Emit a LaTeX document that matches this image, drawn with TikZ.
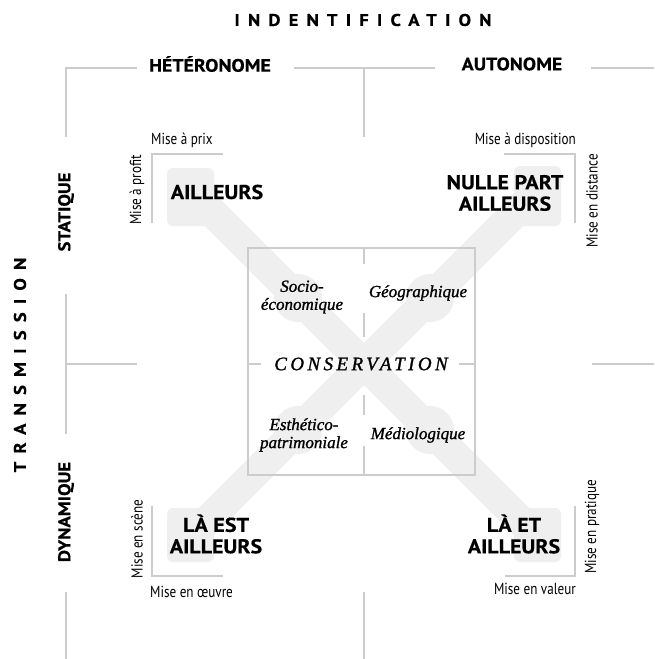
\documentclass[tikz,border=0pt]{standalone}
\usepackage{fontspec}
\setmainfont{Liberation Serif}[ItalicFeatures={FakeBold=1.2}]
\newfontfamily\hsans{PT Sans}[BoldFeatures={FakeStretch=1.1,FakeBold=0.4}]
\newfontfamily\csans[FakeStretch=0.82]{PT Sans}
\definecolor{linegray}{HTML}{CCCCCC}
\definecolor{xgray}{HTML}{EFEFEF}
\tikzset{
  frame/.style={draw=linegray, line width=2.2pt},
  band/.style={draw=xgray, line width=30pt},
  blob/.style={fill=xgray, rounded corners=6pt},
  bulge/.style={fill=xgray},
  head/.style={font=\hsans\bfseries\fontsize{18}{20}\selectfont, inner sep=0pt},
  place/.style={font=\hsans\bfseries\fontsize{20}{21.5}\selectfont, align=center, inner sep=0pt},
  mise/.style={font=\csans\fontsize{16}{18}\selectfont, inner sep=0pt},
  axislabel/.style={font=\hsans\bfseries\fontsize{17}{20}\selectfont\addfontfeature{LetterSpace=48}, inner sep=0pt},
  cat/.style={font=\itshape\fontsize{17}{18}\selectfont, align=center, inner sep=0pt},
  side/.style={font=\hsans\bfseries\fontsize{17}{18}\selectfont, inner sep=0pt, rotate=90},
}
\begin{document}
\begin{tikzpicture}[x=1pt,y=-1pt]
\path[use as bounding box, fill=white] (0,0) rectangle (654,659);

% grey X
\draw[band] (190,190) -- (538,538);
\draw[band] (538,190) -- (190,538);
\fill[blob] (167,168) rectangle (214,226);
\fill[blob] (514,166) rectangle (561,226);
\fill[blob] (167,508) rectangle (214,562);
\fill[blob] (514,508) rectangle (561,562);
\fill[bulge] (298,298) circle (24);
\fill[bulge] (430,298) circle (24);
\fill[bulge] (298,430) circle (24);
\fill[bulge] (430,430) circle (24);

% frame lines
\draw[frame] (137,68) -- (66,68) -- (66,137);
\draw[frame] (294,68) -- (435,68);
\draw[frame] (364,68) -- (364,137);
\draw[frame] (591,68) -- (654,68);
\draw[frame] (66,294) -- (66,434);
\draw[frame] (66,364) -- (137,364);
\draw[frame] (66,592) -- (66,659);
\draw[frame] (364,592) -- (364,659);
\draw[frame] (592,364) -- (654,364);

% central box
\draw[frame] (248,248) rectangle (475,475);
\draw[frame] (364,248) -- (364,264);
\draw[frame] (364,313) -- (364,337);
\draw[frame] (364,395) -- (364,415);
\draw[frame] (364,446) -- (364,475);
\draw[frame] (248,364) -- (261,364);
\draw[frame] (459,364) -- (475,364);

% corner brackets
\draw[frame] (223,154) -- (152,154) -- (152,223);
\draw[frame] (504,154) -- (575,154) -- (575,223);
\draw[frame] (152,506) -- (152,576) -- (223,576);
\draw[frame] (575,506) -- (575,576) -- (505,576);

% titles
\node[axislabel] (ident) at (363,20) {INDENTIFICATION};
\node[axislabel, rotate=90] (trans) at (20,365) {TRANSMISSION};
\node[head] (hetero) at (210,64) {HÉTÉRONOME};
\node[head] (auto) at (512,64) {AUTONOME};
\node[side] (stat) at (66,212) {STATIQUE};
\node[side] (dyn) at (66,512) {DYNAMIQUE};

% places
\node[place] (ailleurs) at (217,192) {AILLEURS};
\node[place] (nulle) at (505,193) {NULLE PART\\AILLEURS};
\node[place] (laest) at (216,534) {LÀ EST\\AILLEURS};
\node[place] (laet) at (514,534) {LÀ ET\\AILLEURS};

% mise labels
\node[mise, anchor=west] (prix) at (151,140) {Mise à prix};
\node[mise, rotate=90] (profit) at (137,190) {Mise à profit};
\node[mise, anchor=east] (dispo) at (576,140) {Mise à disposition};
\node[mise, rotate=90] (dist) at (592,201) {Mise en distance};
\node[mise, rotate=90] (scene) at (137,539) {Mise en scène};
\node[mise, anchor=west] (oeuvre) at (150,592) {Mise en œuvre};
\node[mise, anchor=east] (valeur) at (576,589) {Mise en valeur};
\node[mise, rotate=90] (prat) at (592,527) {Mise en pratique};

% categories
\node[cat] (socio) at (302,297) {Socio-\\économique};
\node[cat] (geo) at (418,293) {Géographique};
\node[cat, font=\itshape\fontsize{19}{19}\selectfont\addfontfeature{LetterSpace=18}] (cons) at (361,364) {CONSERVATION};
\node[cat] (esth) at (304,435) {Esthético-\\patrimoniale};
\node[cat] (medio) at (418,435) {Médiologique};
\end{tikzpicture}
\end{document}
